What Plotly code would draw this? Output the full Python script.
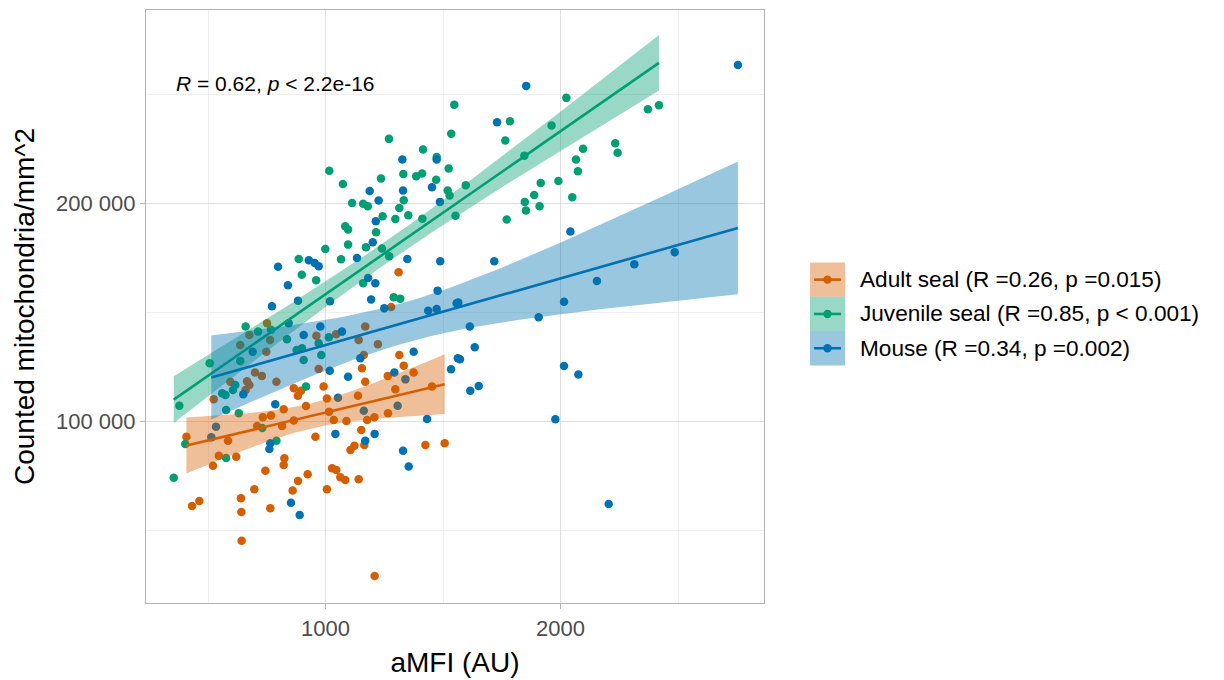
import numpy as np
import plotly.graph_objects as go

# ---------------- data ----------------
adult_x = [751, 676, 764, 961, 1045, 1169, 1141, 1223, 637, 748, 1163, 971, 700, 729, 791, 595,
           666, 676, 660, 524, 1279, 1311, 1314, 1333, 1375, 1155, 1169, 1265, 865, 882, 896, 992,
           1006, 1138, 1297, 1453, 822, 917, 1015, 1266, 733, 768, 815, 865, 1035, 1089, 1177, 1208,
           408, 585, 709, 957, 1152, 1106, 1123, 1165, 1425, 1507, 546, 620, 521, 825, 822, 744,
           1028, 1046, 1063, 1084, 1141, 924, 883, 697, 860, 1006, 640, 432, 463, 642, 765, 643, 1209]
adult_y = [145100, 139800, 137500, 139400, 140100, 143600, 137500, 135500, 135200, 132100, 130600,
           124200, 122500, 121000, 118300, 118300, 118500, 116800, 114500, 110300, 152600, 168500,
           130600, 125700, 122500, 124500, 118300, 121000, 115300, 111900, 114200, 116100, 110600,
           111900, 114900, 116100, 105700, 107200, 104600, 103900, 102000, 102800, 98000, 100500,
           100800, 100300, 100800, 102000, 93100, 91300, 98000, 93100, 96200, 87000, 89000, 89300,
           89300, 90100, 84400, 83900, 79800, 83200, 80100, 77500, 78600, 77800, 74500, 73300, 73600,
           75900, 72800, 69000, 68400, 69000, 64900, 61300, 63600, 58600, 60300, 45400, 29200]

juvenile_x = [1548, 1535, 1270, 1415, 1473, 1524, 1016, 1331, 1236, 1386, 1411, 1471, 1074, 1113,
              1160, 1180, 1333, 1314, 1520, 1528, 1243, 1352, 1297, 1412, 1553, 1084, 1096, 1215,
              1096, 999, 1172, 1240, 1271, 886, 1066, 899, 960, 1160, 1290, 1318, 2025, 1785, 1765,
              1962, 1846, 2096, 2066, 2074, 2233, 2243, 2372, 2419, 1597, 1916, 1991, 1888, 1848,
              1853, 1911, 2050, 1771, 660, 713, 768, 836, 1014, 900, 907, 971, 982, 507, 637, 917,
              378, 577, 631, 731, 403, 791, 577, 354, 616, 606, 560, 574, 877]
juvenile_y = [245400, 232000, 229700, 224800, 221400, 216100, 215100, 213600, 211500, 212600, 213800,
              211000, 209000, 200300, 199900, 198800, 201600, 198000, 206000, 203700, 194200, 194700,
              193000, 193100, 194400, 189600, 188100, 186900, 181200, 179200, 180000, 179400, 175900,
              174600, 174500, 167400, 164900, 163500, 157100, 156400, 248500, 237800, 228900, 235800,
              222000, 225200, 220200, 214900, 227700, 223300, 243300, 245100, 208400, 209500, 210400,
              204000, 200800, 196800, 198800, 202900, 192700, 143600, 141300, 142100, 137800, 138700,
              133700, 128300, 136000, 130600, 126800, 127800, 116100, 107300, 105400, 103900, 97100,
              89800, 91300, 83300, 74300, 116800, 114500, 113000, 112200, 132900]

mouse_x = [1327, 1473, 1453, 1188, 1330, 1226, 1487, 1214, 1201, 1134, 1348, 1488, 798, 929, 954,
           971, 840, 1181, 1212, 883, 1019, 1194, 772, 1477, 1854, 2755, 1730, 2042, 1718, 2486,
           2314, 2155, 2015, 1565, 1907, 1614, 1635, 1572, 2015, 2076, 1616, 1652, 1978, 2205, 1250,
           1437, 1473, 1558, 843, 907, 978, 1070, 690, 1148, 1375, 1293, 1534, 1563, 1018, 1096,
           1340, 650, 1053, 786, 1163, 1307, 1432, 534, 514, 765, 761, 1042, 1209, 1169, 1330, 1354,
           853, 890]
mouse_y = [220200, 220200, 207500, 205800, 206000, 201400, 200800, 191900, 182300, 175100, 174600,
           173600, 171000, 174000, 172800, 171300, 162600, 165900, 163500, 155500, 155200, 156000,
           152900, 160100, 254000, 263600, 237300, 187200, 173600, 177700, 172200, 164500, 155000,
           154600, 147900, 143600, 134100, 128600, 125500, 121600, 114200, 116400, 101100, 62200,
           152000, 150900, 151700, 154300, 145100, 139800, 143600, 141300, 132100, 129100, 132100,
           122500, 124000, 129100, 123400, 120600, 119400, 112600, 111000, 108000, 105000, 107300,
           101200, 97700, 92800, 90100, 87500, 94400, 94400, 91300, 86700, 79400, 62800, 57200]

group_names = ["Adult seal", "Juvenile seal", "Mouse"]
legend_labels = ["Adult seal (R =0.26, p =0.015)",
                 "Juvenile seal (R =0.85, p &lt; 0.001)",
                 "Mouse (R =0.34, p =0.002)"]
cor_label = "<i>R</i> = 0.62, <i>p</i> &lt; 2.2e-16"
cor_label_y = 255000

colors = ["#D55E00", "#009E73", "#0072B2"]
band_colors = ["rgba(213,94,0,0.4)", "rgba(0,158,115,0.4)", "rgba(0,114,178,0.4)"]

FONT = "Liberation Sans, Arial, Helvetica, sans-serif"


def lm_band(x, y, n=80):
    x = np.asarray(x, float)
    y = np.asarray(y, float)
    b, a = np.polyfit(x, y, 1)
    xs = np.linspace(x.min(), x.max(), n)
    yhat = a + b * xs
    resid = y - (a + b * x)
    df = len(x) - 2
    s = np.sqrt(np.sum(resid ** 2) / df)
    sxx = np.sum((x - x.mean()) ** 2)
    se = s * np.sqrt(1.0 / len(x) + (xs - x.mean()) ** 2 / sxx)
    z = 1.959964
    t = z + (z ** 3 + z) / (4 * df) + (5 * z ** 5 + 16 * z ** 3 + 3 * z) / (96 * df ** 2)
    return xs, yhat, yhat - t * se, yhat + t * se


groups = [(adult_x, adult_y), (juvenile_x, juvenile_y), (mouse_x, mouse_y)]

fig = go.Figure()

# points first (smooth layer is drawn on top, as in the original)
for (gx, gy), name, col in zip(groups, group_names, colors):
    fig.add_trace(go.Scatter(x=gx, y=gy, mode="markers", name=name,
                             marker=dict(color=col, size=8.5, line=dict(width=0)),
                             showlegend=False, hoverinfo="x+y+name"))

for (gx, gy), name, col, bcol in zip(groups, group_names, colors, band_colors):
    xs, yhat, lo, hi = lm_band(gx, gy)
    fig.add_trace(go.Scatter(x=np.concatenate([xs, xs[::-1]]),
                             y=np.concatenate([hi, lo[::-1]]),
                             mode="lines", fill="toself", fillcolor=bcol,
                             line=dict(width=0), showlegend=False, hoverinfo="skip"))
    fig.add_trace(go.Scatter(x=xs, y=yhat, mode="lines", line=dict(color=col, width=2.6),
                             showlegend=False, hoverinfo="skip"))

# correlation label (left-aligned at the smallest x)
all_x = adult_x + juvenile_x + mouse_x
fig.add_annotation(x=min(all_x), y=cor_label_y, xref="x", yref="y", text=cor_label,
                   showarrow=False, xanchor="left", yanchor="middle",
                   font=dict(family=FONT, size=21, color="black"))

# ---------------- layout ----------------
# the page body adds an 8 px offset, so the figure is 8 px smaller on each axis
OFF = 8
W_PAGE, H_PAGE = 1224 - OFF, 680 - OFF
L, T = 146 - OFF, 10 - OFF
PW, PH = 618, 593
R = W_PAGE - L - PW
B = H_PAGE - T - PH


def px2x(px):
    # px given in screen coordinates
    return (px - OFF - L) / PW


def py2y(py):
    return (H_PAGE - B - (py - OFF)) / PH


fig.update_layout(width=W_PAGE, height=H_PAGE,
                  margin=dict(l=L, r=R, t=T, b=B, autoexpand=False),
                  plot_bgcolor="white", paper_bgcolor="white",
                  showlegend=False, separators=". ",
                  font=dict(family=FONT, color="black"))

axis_common = dict(showgrid=True, gridcolor="#DEDEDE", gridwidth=1.1,
                   showline=True, mirror=True, linecolor="#B3B3B3", linewidth=1.3,
                   ticks="outside", ticklen=5, tickcolor="#B3B3B3", tickwidth=1.1,
                   zeroline=False, automargin=False,
                   tickfont=dict(family=FONT, size=22, color="#4D4D4D"))

fig.update_xaxes(range=[236, 2866], tick0=0, dtick=1000, tickformat="d",
                 minor=dict(tick0=0, dtick=500, showgrid=True, gridcolor="#EFEFEF",
                            gridwidth=0.7, ticks=""),
                 title=dict(text="aMFI (AU)", font=dict(family=FONT, size=28, color="black"),
                            standoff=12),
                 **axis_common)
fig.update_yaxes(range=[16840, 288800], tick0=0, dtick=100000, tickformat=",d",
                 minor=dict(tick0=0, dtick=50000, showgrid=True, gridcolor="#EFEFEF",
                            gridwidth=0.7, ticks=""),
                 title=dict(text="Counted mitochondria/mm^2",
                            font=dict(family=FONT, size=28, color="black"), standoff=13),
                 **axis_common)

# ---------------- legend (ggplot-style keys) ----------------
key_left, key_right = 810, 845
key_h = 34.3
key_top0 = 262.5
text_left = 858
for i, (lab, col, bcol) in enumerate(zip(legend_labels, colors, band_colors)):
    top = key_top0 + i * key_h
    bot = top + key_h
    cy = (top + bot) / 2
    fig.add_shape(type="rect", xref="paper", yref="paper",
                  x0=px2x(key_left), x1=px2x(key_right), y0=py2y(bot), y1=py2y(top),
                  fillcolor=bcol, line=dict(width=0), layer="above")
    fig.add_shape(type="line", xref="paper", yref="paper",
                  x0=px2x(key_left + 4), x1=px2x(key_right - 4), y0=py2y(cy), y1=py2y(cy),
                  line=dict(color=col, width=2.6), layer="above")
    cx = (key_left + key_right) / 2
    fig.add_shape(type="circle", xref="paper", yref="paper",
                  x0=px2x(cx - 4.2), x1=px2x(cx + 4.2), y0=py2y(cy + 4.2), y1=py2y(cy - 4.2),
                  fillcolor=col, line=dict(width=0), layer="above")
    fig.add_annotation(x=px2x(text_left), y=py2y(cy), xref="paper", yref="paper",
                       text=lab, showarrow=False, xanchor="left", yanchor="middle",
                       font=dict(family=FONT, size=22.6, color="black"))

fig.write_html("out.html")
